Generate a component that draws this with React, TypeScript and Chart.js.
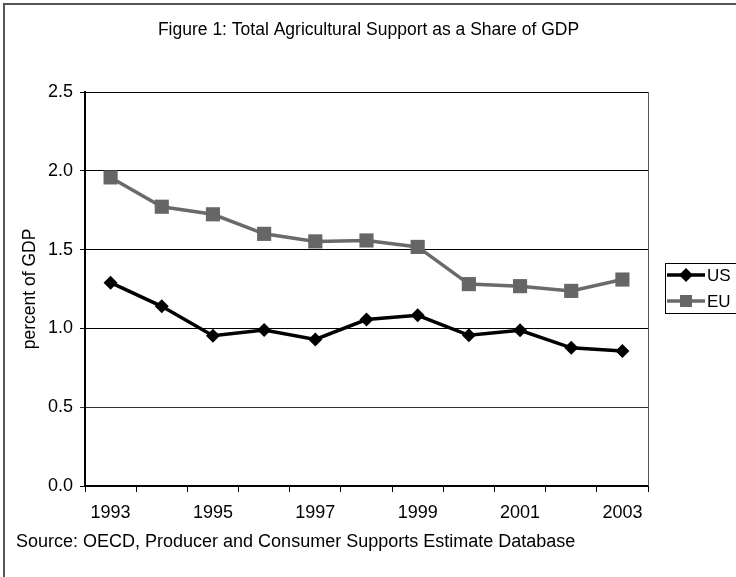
import React, { useEffect, useRef } from "react";
import { Chart, registerables } from "chart.js";

Chart.register(...registerables);

const years = ["1993", "1994", "1995", "1996", "1997", "1998", "1999", "2000", "2001", "2002", "2003"];
const usValues = [1.29, 1.14, 0.954, 0.99, 0.93, 1.056, 1.083, 0.956, 0.988, 0.877, 0.857];
const euValues = [1.958, 1.772, 1.724, 1.6, 1.552, 1.558, 1.517, 1.281, 1.268, 1.238, 1.31];
const yTicks = [0, 0.5, 1.0, 1.5, 2.0, 2.5];
const titleText = "Figure 1: Total Agricultural Support as a Share of GDP";
const yTitle = "percent of GDP";
const sourceText = "Source: OECD, Producer and Consumer Supports Estimate Database";

const FONT = "Arial, 'Liberation Sans', sans-serif";

const decorPlugin = {
  id: "decor",
  beforeDraw(chart: any) {
    const ctx = chart.ctx;
    ctx.save();
    ctx.fillStyle = "#ffffff";
    ctx.fillRect(0, 0, chart.width, chart.height);
    ctx.strokeStyle = "#555555";
    ctx.lineWidth = 2;
    ctx.strokeRect(4, 4, chart.width + 10, chart.height + 10);
    ctx.restore();
  },
  afterDraw(chart: any) {
    const ctx = chart.ctx;
    const area = chart.chartArea;
    ctx.save();
    // chart title
    ctx.fillStyle = "#000000";
    ctx.font = `17.5px ${FONT}`;
    ctx.textAlign = "center";
    ctx.textBaseline = "middle";
    ctx.fillText(titleText, 368.5, 30);
    // right border of plot
    ctx.strokeStyle = "#555555";
    ctx.lineWidth = 1;
    ctx.beginPath();
    ctx.moveTo(Math.round(area.right) + 0.5, area.top);
    ctx.lineTo(Math.round(area.right) + 0.5, area.bottom);
    ctx.stroke();
    // source text
    ctx.fillStyle = "#000000";
    ctx.font = `18px ${FONT}`;
    ctx.textAlign = "left";
    ctx.textBaseline = "middle";
    ctx.fillText(sourceText, 16, 542);
    // legend
    const lx = 665, ly = 263, lh = 50;
    ctx.strokeStyle = "#000000";
    ctx.lineWidth = 1;
    ctx.strokeRect(lx + 0.5, ly + 0.5, 100, lh);
    const rows = [275, 301];
    chart.data.datasets.forEach((ds: any, i: number) => {
      const y = rows[i];
      ctx.strokeStyle = ds.borderColor;
      ctx.lineWidth = ds.borderWidth;
      ctx.beginPath();
      ctx.moveTo(667, y);
      ctx.lineTo(705, y);
      ctx.stroke();
      ctx.fillStyle = ds.pointBackgroundColor;
      const r = ds.pointRadius;
      const cx = 686;
      if (ds.pointStyle === "rectRot") {
        ctx.beginPath();
        ctx.moveTo(cx, y - r);
        ctx.lineTo(cx + r, y);
        ctx.lineTo(cx, y + r);
        ctx.lineTo(cx - r, y);
        ctx.closePath();
        ctx.fill();
      } else {
        const s = Math.SQRT1_2 * r * 0.85;
        ctx.fillRect(cx - s, y - s, 2 * s, 2 * s);
      }
      ctx.fillStyle = "#000000";
      ctx.font = `17px ${FONT}`;
      ctx.textAlign = "left";
      ctx.textBaseline = "middle";
      ctx.fillText(ds.label, 707, y + 1);
    });
    ctx.restore();
  },
};

export default function App() {
  const ref = useRef<HTMLCanvasElement>(null);
  useEffect(() => {
    if (!ref.current) return;
    const chart = new Chart(ref.current, {
      type: "line",
      data: {
        labels: years,
        datasets: [
          {
            label: "US",
            data: usValues,
            borderColor: "#000000",
            backgroundColor: "#000000",
            pointBackgroundColor: "#000000",
            pointBorderColor: "#000000",
            borderWidth: 3.5,
            pointStyle: "rectRot",
            pointRadius: 7,
            pointBorderWidth: 0,
            tension: 0,
          },
          {
            label: "EU",
            data: euValues,
            borderColor: "#6a6a6a",
            backgroundColor: "#666666",
            pointBackgroundColor: "#666666",
            pointBorderColor: "#666666",
            borderWidth: 3.5,
            pointStyle: "rect",
            pointRadius: 10,
            pointBorderWidth: 0,
            tension: 0,
          },
        ],
      },
      plugins: [decorPlugin],
      options: {
        animation: false,
        responsive: false,
        maintainAspectRatio: false,
        layout: { padding: { left: 16, right: 88, top: 92, bottom: 0 } },
        plugins: {
          legend: { display: false },
          tooltip: { enabled: false },
          title: { display: false },
        },
        scales: {
          x: {
            type: "category",
            offset: true,
            grid: {
              display: true,
              offset: true,
              drawOnChartArea: false,
              drawTicks: true,
              tickLength: 6,
              color: "#000000",
              lineWidth: 1,
            },
            border: { display: true, color: "#000000", width: 2 },
            ticks: {
              autoSkip: false,
              maxRotation: 0,
              color: "#000000",
              padding: 10,
              font: { family: FONT, size: 18 },
              callback: (_v: any, i: number) => (i % 2 === 0 ? years[i] : ""),
            },
            afterFit: (s: any) => {
              s.height = 91;
            },
          },
          y: {
            min: 0,
            max: 2.5,
            afterBuildTicks: (s: any) => {
              s.ticks = yTicks.map((v) => ({ value: v }));
            },
            grid: {
              color: (c: any) => (c.tick && c.tick.value === 0.5 ? "#333333" : "#000000"),
              lineWidth: 1,
              drawTicks: true,
              tickLength: 5,
            },
            border: { display: true, color: "#000000", width: 2 },
            ticks: {
              color: "#000000",
              padding: 7,
              font: { family: FONT, size: 18 },
              callback: (v: any) => Number(v).toFixed(1),
            },
            title: {
              display: true,
              text: yTitle,
              color: "#000000",
              font: { family: FONT, size: 17.5 },
              padding: { top: 4, bottom: 4 },
            },
            afterFit: (s: any) => {
              s.width = 69;
            },
          },
        },
      },
    } as any);
    return () => chart.destroy();
  }, []);
  return (
    <div style={{ position: "fixed", left: 0, top: 0, width: 736, height: 577 }}>
      <canvas ref={ref} width={736} height={577} style={{ display: "block", width: 736, height: 577 }} />
    </div>
  );
}
